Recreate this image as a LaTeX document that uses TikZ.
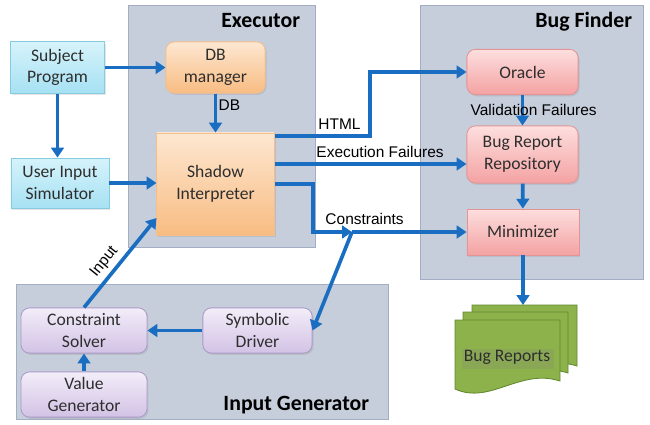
\documentclass[tikz,border=0pt]{standalone}
\usepackage{fontspec}
\setmainfont{Carlito}
\newfontfamily\labelfont{Liberation Sans}
\usepackage{tikz}
\usetikzlibrary{positioning,arrows.meta,shadows}

\definecolor{panelfill}{HTML}{C6CDDB}
\definecolor{paneldraw}{HTML}{A2AEC3}
\definecolor{flowblue}{HTML}{1A6EC2}
\definecolor{boxtext}{HTML}{2E2E2E}
\definecolor{bluetop}{HTML}{D6F3FB}
\definecolor{bluebot}{HTML}{A6E1F3}
\definecolor{bluedraw}{HTML}{86CBE0}
\definecolor{orangetop}{HTML}{FDE7D1}
\definecolor{orangebot}{HTML}{F8BC82}
\definecolor{orangedraw}{HTML}{F3C08C}
\definecolor{pinktop}{HTML}{FDDEDE}
\definecolor{pinkbot}{HTML}{F4A2A2}
\definecolor{pinkdraw}{HTML}{E19595}
\definecolor{purpletop}{HTML}{F3EDF9}
\definecolor{purplebot}{HTML}{D2C2E5}
\definecolor{purpledraw}{HTML}{A99BC6}
\definecolor{greenfill}{HTML}{8DB14B}
\definecolor{greendraw}{HTML}{62892E}

\tikzset{
  panel/.style={fill=panelfill, draw=paneldraw, line width=0.6pt},
  paneltitle/.style={anchor=east, font=\fontsize{15.5}{18}\selectfont\bfseries},
  box/.style={align=center, text=boxtext, inner sep=2pt,
    font=\fontsize{12.5}{15.5}\selectfont, line width=0.6pt,
    drop shadow={shadow xshift=1pt, shadow yshift=-1.2pt, opacity=0.2}},
  bluebox/.style={box, top color=bluetop, bottom color=bluebot, draw=bluedraw},
  orangebox/.style={box, top color=orangetop, bottom color=orangebot, draw=orangedraw},
  pinkbox/.style={box, top color=pinktop, bottom color=pinkbot, draw=pinkdraw},
  purplebox/.style={box, top color=purpletop, bottom color=purplebot, draw=purpledraw},
  flow/.style={draw=flowblue, line width=2.6pt, -{Triangle[length=7pt,width=9pt]}},
  flowlabel/.style={font=\labelfont\fontsize{11}{13}\selectfont, text=black, inner sep=1pt}
}

\begin{document}
\begin{tikzpicture}[x=0.025cm, y=-0.025cm]
  \useasboundingbox (0,0) rectangle (650,424);

  % panels
  \draw[panel] (128,5) rectangle (315,247);
  \draw[panel] (420,5) rectangle (643,279);
  \draw[panel] (16,284) rectangle (388,419);
  \node[paneltitle] (exectitle) at (305,21) {Executor};
  \node[paneltitle] (bugtitle)  at (637,22) {Bug Finder};
  \node[paneltitle] (gentitle)  at (374,405) {Input Generator};

  % boxes
  \node[bluebox, minimum width=2.33cm, minimum height=1.28cm] (subj) at (57.5,67.5) {Subject\\Program};
  \node[bluebox, minimum width=2.45cm, minimum height=1.25cm] (usim) at (60,183) {User Input\\Simulator};
  \node[orangebox, rounded corners=6pt, minimum width=2.48cm, minimum height=1.28cm] (dbm) at (215.5,67.5) {DB\\manager};
  \node[orangebox, minimum width=2.93cm, minimum height=2.55cm] (shadow) at (215.5,184) {Shadow\\Interpreter};
  \node[pinkbox, rounded corners=6pt, minimum width=2.78cm, minimum height=1.13cm] (oracle) at (522.5,72) {Oracle};
  \node[pinkbox, rounded corners=6pt, minimum width=2.78cm, minimum height=1.43cm] (brr) at (522.5,154.5) {Bug Report\\Repository};
  \node[pinkbox, minimum width=2.8cm, minimum height=1.15cm] (mini) at (523,232) {Minimizer};
  \node[purplebox, rounded corners=6pt, minimum width=3.15cm, minimum height=1.13cm] (csolv) at (84,330.5) {Constraint\\Solver};
  \node[purplebox, rounded corners=6pt, minimum width=3.15cm, minimum height=1.13cm] (vgen) at (84,394.5) {Value\\Generator};
  \node[purplebox, rounded corners=6pt, minimum width=2.73cm, minimum height=1.13cm] (sdrv) at (257.5,330.5) {Symbolic\\Driver};

  % bug report stack
  \foreach \dx/\dy in {17/-15, 8/-8, 0/0}
    \draw[fill=greenfill, draw=greendraw, line width=0.6pt]
      ({455+\dx},{320+\dy}) -- ({560+\dx},{320+\dy}) -- ({560+\dx},{381+\dy})
      .. controls ({520+\dx},{368+\dy}) and ({490+\dx},{405+\dy}) .. ({455+\dx},{389+\dy}) -- cycle;
  \node[box, drop shadow={opacity=0}, text=boxtext] (reports) at (507,357) {Bug Reports};
  \coordinate (stacktop) at (523,305);

  % connector points
  \coordinate (htmlout) at ([yshift=1.2cm]shadow.east);
  \coordinate (failout) at ([yshift=0.5cm]shadow.east);
  \coordinate (consout) at (shadow.east);
  \coordinate (htmlbend) at (370,72);
  \coordinate (consbend) at (313,232);
  \coordinate (split) at (352,232);
  \coordinate (inputin) at ([yshift=-0.85cm]shadow.west);

  \path[flow]
    (subj) -- (dbm);
  \path[flow]
    (subj.south) -- (subj.south |- usim.north);
  \path[flow]
    (usim) -- (usim -| shadow.west);
  \path[flow]
    (dbm) -- node[flowlabel, right, pos=0.3] {DB} (shadow);
  \path[flow]
    (htmlout) -| node[flowlabel, above, pos=0.34, yshift=2pt] {HTML} (htmlbend) -- (oracle.west);
  \path[flow]
    (failout) -- node[flowlabel, above, pos=0.55, yshift=2pt] {Execution Failures} (failout -| brr.west);
  \path[flow]
    (consout) -| (consbend) -- (split);
  \path[flow]
    (split) -- node[flowlabel, above, pos=0.11, yshift=3pt] {Constraints} (mini);
  \path[flow]
    (split) -- (sdrv.east);
  \path[flow]
    (sdrv) -- (csolv);
  \path[flow]
    (vgen) -- (csolv);
  \path[flow]
    (csolv.north) -- node[flowlabel, sloped, above, pos=0.42, yshift=2pt] {Input} (inputin);
  \path[flow]
    (oracle) -- node[flowlabel, xshift=0.28cm] {Validation Failures} (brr);
  \path[flow]
    (brr) -- (mini);
  \path[flow]
    (mini) -- (stacktop);
\end{tikzpicture}
\end{document}
